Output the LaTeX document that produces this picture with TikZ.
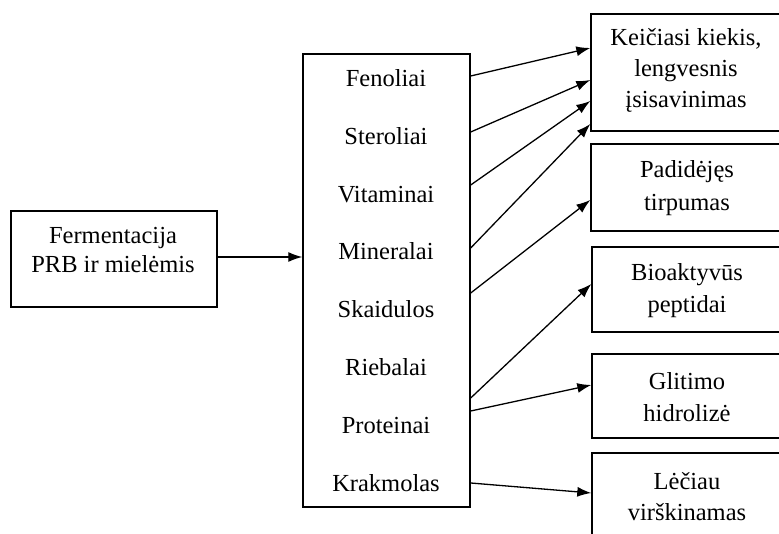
\documentclass[tikz,border=0pt]{standalone}
\usepackage{fontspec}
\setmainfont{Liberation Serif}
\usetikzlibrary{arrows.meta}
\begin{document}
\begin{tikzpicture}[x=1pt,y=-1pt,
  box/.style={draw,line width=1.4pt,inner sep=0pt},
  lbl/.style={font=\fontsize{24.5}{31}\selectfont, align=center, inner sep=0pt},
  item/.style={font=\fontsize{24.5}{31}\selectfont, anchor=base, inner sep=0pt},
  arr/.style={line width=1.3pt, -{Latex[length=14pt,width=10pt]}}]
\useasboundingbox (0,0) rectangle (779,534);
\fill[white] (0,0) rectangle (779,534);
\clip (0,0) rectangle (779,534);
% boxes
\node[box, minimum width=206, minimum height=96] (src) at (114,259) {};
\node[box, minimum width=167, minimum height=453] (mid) at (386.5,280.5) {};
\node[box, minimum width=190, minimum height=117] (b1) at (686,72.5) {};
\node[box, minimum width=190, minimum height=87] (b2) at (686,187.5) {};
\node[box, minimum width=189, minimum height=85] (b3) at (686.5,289.5) {};
\node[box, minimum width=189, minimum height=84] (b4) at (686.5,396) {};
\node[box, minimum width=189, minimum height=92] (b5) at (686.5,499) {};
% texts
\node[lbl, font=\fontsize{24.5}{29}\selectfont] (tsrc) at (113,250) {Fermentacija\\PRB ir mielėmis};
\node[lbl] (t1) at (686,70) {Keičiasi kiekis,\\lengvesnis\\įsisavinimas};
\node[lbl, font=\fontsize{24.5}{33}\selectfont] (t2) at (687,188) {Padidėjęs\\tirpumas};
\node[lbl, font=\fontsize{24.5}{32}\selectfont] (t3) at (687,290.5) {Bioaktyvūs\\peptidai};
\node[lbl, font=\fontsize{24.5}{32}\selectfont] (t4) at (687,397.5) {Glitimo\\hidrolizė};
\node[lbl] (t5) at (687,496.5) {Lėčiau\\virškinamas};
\node[item] (i1) at (386,87) {Fenoliai};
\node[item] (i2) at (386,144.7) {Steroliai};
\node[item] (i3) at (386,202.4) {Vitaminai};
\node[item] (i4) at (386,260) {Mineralai};
\node[item] (i5) at (386,317.8) {Skaidulos};
\node[item] (i6) at (386,375.5) {Riebalai};
\node[item] (i7) at (386,433.2) {Proteinai};
\node[item] (i8) at (386,491) {Krakmolas};
% connectors
\draw[arr] (src.east |- 0,257) -- (mid.west |- 0,257);
\draw[arr] (mid.east |- 0,76) -- (b1.west |- 0,48);
\draw[arr] (mid.east |- 0,132) -- (b1.west |- 0,80);
\draw[arr] (mid.east |- 0,185) -- (b1.west |- 0,101);
\draw[arr] (mid.east |- 0,248) -- (b1.west |- 0,124);
\draw[arr] (mid.east |- 0,293) -- (b2.west |- 0,200);
\draw[arr] (mid.east |- 0,398) -- (b3.west |- 0,284);
\draw[arr] (mid.east |- 0,411) -- (b4.west |- 0,385);
\draw[arr] (mid.east |- 0,483) -- (b5.west |- 0,493);
\end{tikzpicture}
\end{document}
